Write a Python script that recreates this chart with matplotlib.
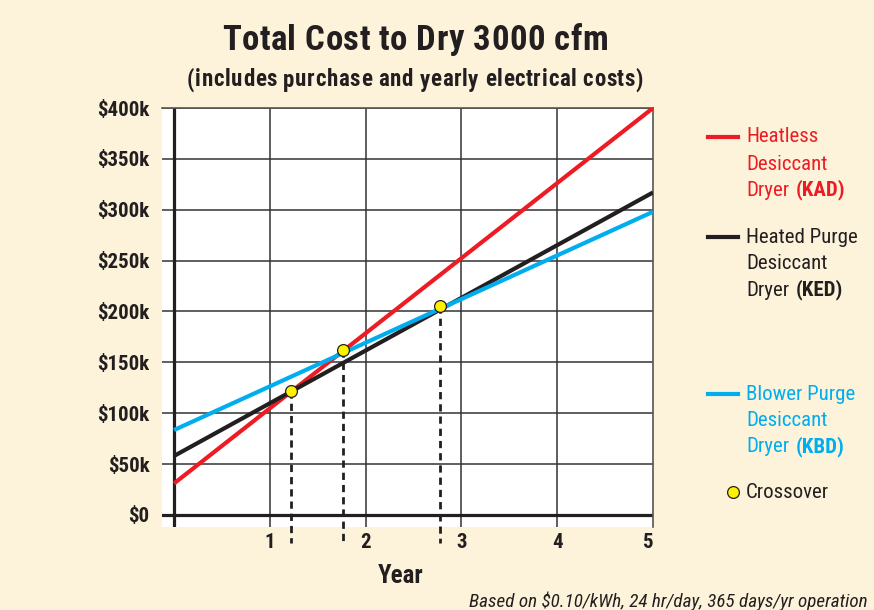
import matplotlib.pyplot as plt
from matplotlib import font_manager
from matplotlib.font_manager import FontProperties, findfont, get_font

years = [0, 5]
kad_cost = [31000, 400000]   # heatless
ked_cost = [58000, 317000]   # heated purge
kbd_cost = [83500, 298000]   # blower purge
cross_year = [1.22, 1.76, 2.78]
cross_cost = [122000, 162000, 205000]

y_ticks = [0, 50000, 100000, 150000, 200000, 250000, 300000, 350000, 400000]
y_labels = ['$0', '$50k', '$100k', '$150k', '$200k', '$250k', '$300k', '$350k', '$400k']
x_ticks = [1, 2, 3, 4, 5]

red = '#ed1c24'
black = '#231f20'
blue = '#00aeef'
yellow = '#fff200'
cream = '#fdf3da'

installed = {f.name for f in font_manager.fontManager.ttflist}
narrow = next((n for n in ['Roboto Condensed', 'Archivo Narrow', 'PT Sans Narrow',
                           'IBM Plex Sans Condensed'] if n in installed), 'DejaVu Sans')
plt.rcParams['font.family'] = [narrow, 'DejaVu Sans']

fig = plt.figure(figsize=(8.74, 6.10), dpi=100, facecolor=cream)
W, H = 874, 610


def tracked(xc, y, s, size, width_px, **kw):
    # letter-spaced text, centred at xc (pixels), spread to width_px
    prop = FontProperties(family=narrow, weight='bold', size=size)
    font = get_font(findfont(prop))
    font.set_size(size, 100)
    adv = [font.load_char(ord(c)).linearHoriAdvance / 65536 for c in s]
    gap = (width_px - sum(adv)) / (len(s) - 1)
    x = xc - width_px / 2
    for c, a in zip(s, adv):
        if c != ' ':
            fig.text(x / W, 1 - y / H, c, ha='left', va='center', fontsize=size,
                     fontweight='bold', color=black)
        x += a + gap


ax = fig.add_axes([162 / W, 1 - 527 / H, (653 - 162) / W, (527 - 108) / H])
ax.set_facecolor('white')
ax.set_xlim(-0.1255, 5)
ax.set_ylim(-11800, 400000)

for y in y_ticks[1:]:
    ax.axhline(y, color='#333333', lw=1.1, zorder=1)
for x in x_ticks[:-1]:
    ax.axvline(x, color='#333333', lw=1.1, zorder=1)
ax.axhline(0, color=black, lw=2.3, zorder=2)
ax.axvline(0, color=black, lw=2.3, zorder=2)

for s in ['left', 'bottom']:
    ax.spines[s].set_visible(False)
for s in ['top', 'right']:
    ax.spines[s].set_color('#555555')
    ax.spines[s].set_linewidth(1.2)

ax.plot(years, kad_cost, color=red, lw=3, solid_capstyle='butt', zorder=3)
ax.plot(years, ked_cost, color=black, lw=3, solid_capstyle='butt', zorder=3)
ax.plot(years, kbd_cost, color=blue, lw=3, solid_capstyle='butt', zorder=3)

for cx, cy in zip(cross_year, cross_cost):
    ax.plot([cx, cx], [cy, -28000], color=black, lw=2, ls=(0, (2.6, 1.8)),
            clip_on=False, zorder=4)
ax.plot(cross_year, cross_cost, 'o', ms=8.5, mfc=yellow, mec=black, mew=0.9, zorder=5)

ax.set_yticks(y_ticks)
ax.set_yticklabels(y_labels, fontsize=15, fontweight='bold', color=black)
ax.set_xticks(x_ticks)
ax.set_xticklabels([str(t) for t in x_ticks], fontsize=15, fontweight='bold', color=black)
ax.tick_params(length=0)
ax.tick_params(axis='y', pad=9)
ax.tick_params(axis='x', pad=4)
ax.get_xticklabels()[-1].set_ha('right')
ax.set_xlabel('Year', fontsize=18, fontweight='bold', color=black)
ax.xaxis.set_label_coords((401 - 162) / 491, -0.088)

tracked(415, 40, 'Total Cost to Dry 3000 cfm', 25, 386)
tracked(415, 80, '(includes purchase and yearly electrical costs)', 16.5, 456)
fig.text(868 / W, 1 - 607 / H, 'Based on $0.10/kWh, 24 hr/day, 365 days/yr operation',
         ha='right', va='baseline', fontsize=13.8, style='italic', color=black)

# legend
def legend_entry(y0, color, line1, line2, code):
    fig.add_artist(plt.Line2D([708 / W, 738 / W], [1 - y0 / H] * 2, color=color, lw=3))
    fig.text(746 / W, 1 - y0 / H, line1, va='center', fontsize=15, color=color)
    fig.text(746 / W, 1 - (y0 + 27) / H, line2, va='center', fontsize=15, color=color)
    fig.text(746 / W, 1 - (y0 + 53) / H, 'Dryer', va='center', fontsize=15, color=color)
    fig.text(796 / W, 1 - (y0 + 53) / H, code, va='center', fontsize=15,
             fontweight='bold', color=color)

legend_entry(137, red, 'Heatless', 'Desiccant', '(KAD)')
legend_entry(237, black, 'Heated Purge', 'Desiccant', '(KED)')
legend_entry(394, blue, 'Blower Purge', 'Desiccant', '(KBD)')
fig.add_artist(plt.Line2D([733 / W], [1 - 492 / H], marker='o', ms=8.5, mfc=yellow,
                          mec=black, mew=0.9, ls='none'))
fig.text(746 / W, 1 - 492 / H, 'Crossover', va='center', fontsize=15, color=black)

fig.savefig('out.png', dpi=100, facecolor=cream)
